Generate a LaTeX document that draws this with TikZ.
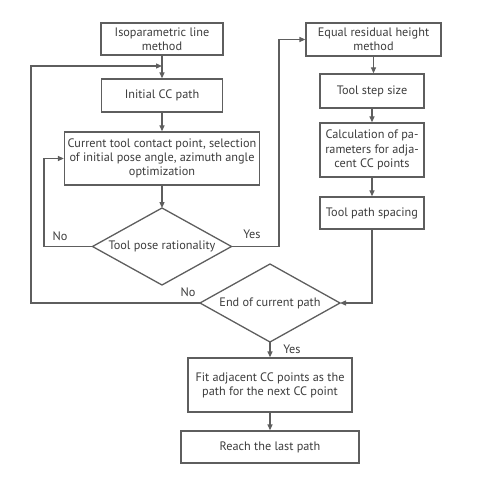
\documentclass[tikz,border=0pt]{standalone}
\usepackage{fontspec}
\setmainfont{PT Sans}
\usetikzlibrary{arrows.meta}
\definecolor{lc}{HTML}{5E5E5E}
\definecolor{tc}{HTML}{3C3C3C}
\begin{document}
\begin{tikzpicture}[x=1bp,y=-1bp,
  box/.style={draw=lc, line width=1.3bp, inner sep=0pt, align=center, text=tc,
    font=\fontsize{12.3}{14.2}\selectfont},
  lbl/.style={text=tc, font=\fontsize{12.3}{14.2}\selectfont, inner sep=0pt},
  dia/.style={draw=lc, line width=1.3bp, line join=miter},
  arr/.style={-{Triangle[length=6bp,width=5bp]}, draw=lc, line width=1.3bp}]
\useasboundingbox (0,0) rectangle (479,480);
% boxes
\node[box, minimum width=122bp, minimum height=32bp] (b1) at (162,39) {Isoparametric line\\method};
\node[box, minimum width=121bp, minimum height=33bp] (b2) at (162,95.5) {Initial CC path};
\node[box, minimum width=195bp, minimum height=53bp] (b3) at (162,158.5) {Current tool contact point, selection\\of initial pose angle, azimuth angle\\optimization};
\node[box, minimum width=135bp, minimum height=33bp] (b4) at (373.5,39.5) {Equal residual height\\method};
\node[box, minimum width=104bp, minimum height=34bp] (b5) at (372,91) {Tool step size};
\node[box, minimum width=104bp, minimum height=54bp] (b6) at (372,150) {Calculation of pa-\\rameters for adja-\\cent CC points};
\node[box, minimum width=104bp, minimum height=32bp] (b7) at (372,213) {Tool path spacing};
\node[box, minimum width=164bp, minimum height=54bp] (b8) at (270,385) {Fit adjacent CC points as the\\path for the next CC point};
\node[box, minimum width=178bp, minimum height=32bp] (b9) at (270,447) {Reach the last path};
% diamond 1
\coordinate (d1t) at (162,208);
\coordinate (d1b) at (162,285);
\coordinate (d1l) at (92.5,246.5);
\coordinate (d1r) at (231.5,246.5);
\draw[dia] (d1t) -- (d1r) -- (d1b) -- (d1l) -- cycle;
\node[lbl] (d1) at (162,246.5) {Tool pose rationality};
% diamond 2
\coordinate (d2t) at (270,264);
\coordinate (d2b) at (270,342);
\coordinate (d2l) at (200,303);
\coordinate (d2r) at (340,303);
\draw[dia] (d2t) -- (d2r) -- (d2b) -- (d2l) -- cycle;
\node[lbl] (d2) at (270,303) {End of current path};
% connectors
\coordinate (m) at (162,66);
\draw[arr] (b1.south) -- (b2.north);
\draw[arr] (b2.south) -- (b3.north);
\draw[arr] (b3.south) -- (d1t);
\draw[arr] (d1l) -- (44,246.5) |- (b3.west);
\draw[arr] (d1r) -- (279,246.5) |- (b4.west);
\draw[arr] (b4.south) -- (b4.south |- b5.north);
\draw[arr] (b5.south) -- (b6.north);
\draw[arr] (b6.south) -- (b7.north);
\draw[arr] (b7.south) |- (d2r);
\draw[arr] (d2l) -- (31,303) |- (m);
\draw[arr] (d2b) -- (b8.north);
\draw[arr] (b8.south) -- (b9.north);
% labels
\node[lbl] (no1) at (60,236) {No};
\node[lbl] (yes1) at (252,234) {Yes};
\node[lbl] (no2) at (188,292) {No};
\node[lbl] (yes2) at (292,349) {Yes};
\end{tikzpicture}
\end{document}
